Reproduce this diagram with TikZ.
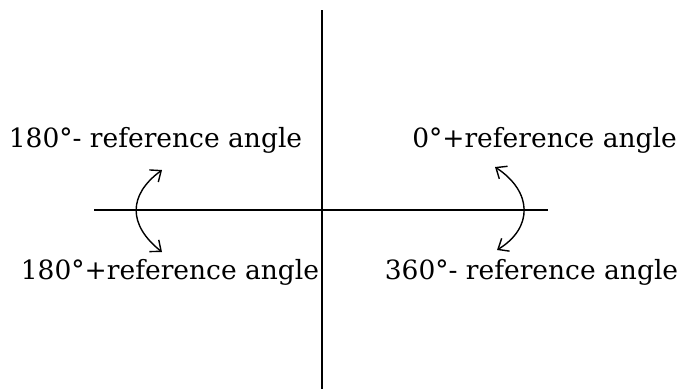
\documentclass[tikz,border=0pt]{standalone}
\usepackage{fontspec}
\setmainfont{DejaVu Serif}
\usetikzlibrary{arrows.meta}
\begin{document}
\begin{tikzpicture}[x=1pt,y=-1pt,
  axis/.style={line width=1.6pt},
  lbl/.style={inner sep=0pt,font=\fontsize{26.5}{30}\selectfont},
  swing/.style={line width=1.4pt,{Straight Barb[length=9pt,width=15pt]}-{Straight Barb[length=9pt,width=15pt]}}]
\useasboundingbox (0,0) rectangle (683,389);
\coordinate (vt) at (322,10);
\coordinate (vb) at (322,389);
\coordinate (hl) at (94,210);
\coordinate (hr) at (548,210);
\draw[axis] (vt) -- (vb);
\draw[axis] (hl) -- (hr);
\node[lbl] (q2) at (155.5,140) {180°- reference angle};
\node[lbl] (q1) at (544.5,140) {0°+reference angle};
\node[lbl] (q3) at (170,272) {180°+reference angle};
\node[lbl] (q4) at (531.5,272) {360°- reference angle};
\coordinate (la) at (162,170);
\coordinate (lb) at (162,252);
\coordinate (ra) at (495,167);
\coordinate (rb) at (497,250);
\draw[swing] (la) .. controls (128,195) and (128,225) .. (lb);
\draw[swing] (ra) .. controls (533,192) and (533,228) .. (rb);
\end{tikzpicture}
\end{document}
